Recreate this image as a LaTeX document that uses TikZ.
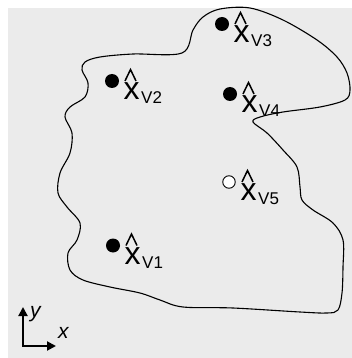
\documentclass[tikz,border=0pt]{standalone}
\usepackage{fontspec}
\setmainfont{Liberation Sans}
\usetikzlibrary{arrows.meta}
\definecolor{panel}{RGB}{235,235,235}
\tikzset{
  solid dot/.style={circle, fill=black, inner sep=0pt, minimum size=14pt},
  open dot/.style={circle, draw=black, fill=white, line width=0.9pt, inner sep=0pt, minimum size=12.5pt},
  xsym/.style={anchor=base, inner sep=0pt, font=\fontsize{32}{32}\selectfont},
  xsub/.style={anchor=base west, inner sep=0pt, font=\fontsize{17}{17}\selectfont},
  hatmark/.style={line width=1.5pt, line join=miter},
  boundary/.style={line width=1.1pt, line join=round},
  axis/.style={line width=2pt, -{Triangle[length=9pt,width=9pt]}},
  axislabel/.style={inner sep=0pt, font=\fontsize{21}{21}\selectfont\itshape},
}
% an estimated point: dot, x with hat, subscript
\newcommand\estpoint[4]{%
  \node[#4] (#1) at (#2) {};
  \node[xsym] (#1x) at ([shift={(19.5,18.5)}]#1.center) {x};
  \node[xsub] (#1s) at ([shift={(29,22.5)}]#1.center) {V#3};
  \draw[hatmark] ([shift={(13,0)}]#1.center) -- ([shift={(18.5,-11.5)}]#1.center) -- ([shift={(24,0)}]#1.center);
}
\begin{document}
\begin{tikzpicture}[x=1pt, y=-1pt]
\useasboundingbox (0,0) rectangle (352,358);
\fill[panel] (8,8) rectangle (352,358);

% region boundary
\draw[boundary] plot[smooth cycle, tension=0.55] coordinates {
  (182,53) (193,30) (203,17) (220,9) (250,8) (283,20) (317,40) (337,57)
  (347,73) (350,90) (345,100) (320,107) (283,112) (260,117) (253,122)
  (267,133) (283,150) (297,167) (300,187) (302,200) (313,210) (333,223)
  (343,240) (343,267) (342,293) (338,310) (327,313) (300,312) (233,308)
  (183,307) (160,300) (140,293) (110,287) (83,280) (70,270) (68,253)
  (77,240) (80,223) (67,207) (58,193) (60,173) (70,153) (72,133) (65,117)
  (70,107) (85,97) (88,83) (82,70) (85,62) (100,57) (133,54)};

\estpoint{v1}{113,245.5}{1}{solid dot}
\estpoint{v2}{112,81}{2}{solid dot}
\estpoint{v3}{222,24}{3}{solid dot}
\estpoint{v4}{230,94}{4}{solid dot}
\estpoint{v5}{229,182}{5}{open dot}

% coordinate axes
\coordinate (o) at (23,346);
\coordinate (ytip) at (23,307);
\coordinate (xtip) at (56,346);
\draw[axis] ([yshift=1pt]o) -- (ytip);
\draw[axis] ([xshift=-1pt]o) -- (xtip);
\node[axislabel, anchor=base west] (ylab) at (30,317) {y};
\node[axislabel, anchor=base west] (xlab) at (58,338) {x};
\end{tikzpicture}
\end{document}
